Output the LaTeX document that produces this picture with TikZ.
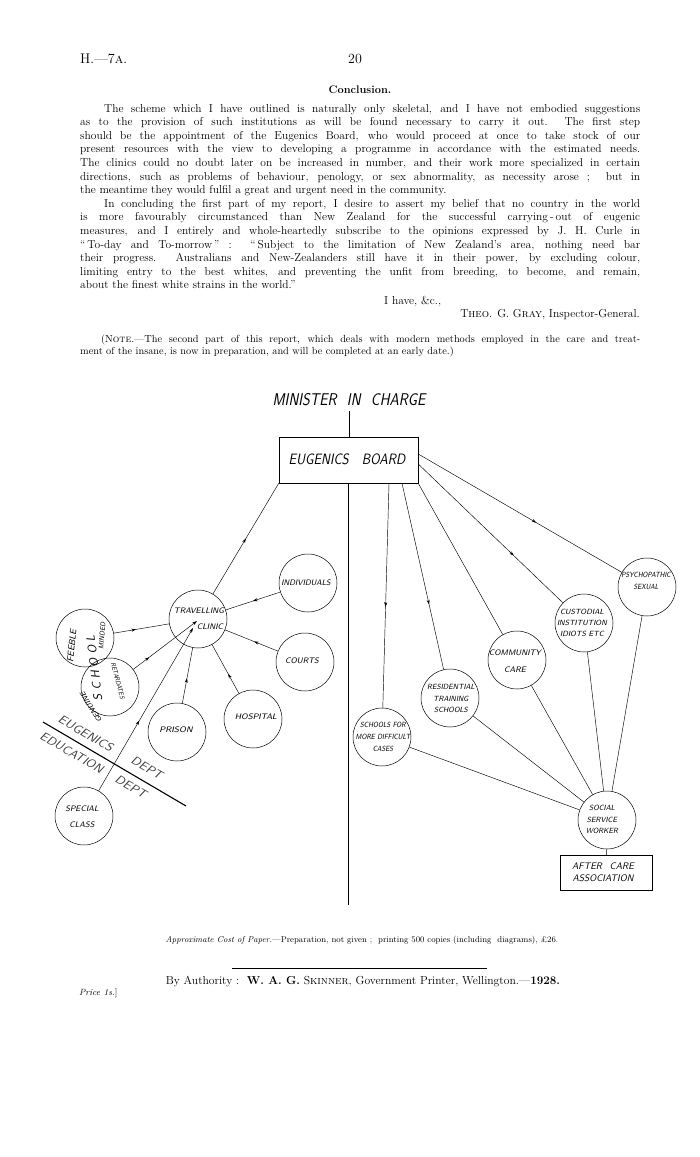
\documentclass[tikz,border=0pt]{standalone}
\usepackage{fontspec}
\usepackage{graphicx}
\usetikzlibrary{decorations.markings,arrows.meta}
\newcommand{\hand}[4]{{\fontsize{#2}{#3}\selectfont\sffamily\itshape\scalebox{#1}[1]{\begin{tabular}{@{}c@{}}#4\end{tabular}}}}
\begin{document}
\begin{tikzpicture}[x=1pt,y=-1pt,
  circ/.style={circle,draw,line width=0.5pt,minimum size=58pt,inner sep=0pt},
  conn/.style={line width=0.45pt},
  midarrow/.style={postaction={decorate},decoration={markings,mark=at position #1 with {\arrow{Stealth[length=4.5pt,width=3pt]}}}},
  midarrow/.default=0.5,
  lbl/.style={inner sep=0pt},
  divtext/.style={inner sep=0pt,text=black!75}]
\useasboundingbox (0,0) rectangle (700,1157);
\fill[white] (0,0) rectangle (700,1157);

% ---------- header and text ----------
\node[lbl, anchor=west, font=\fontsize{14}{16}\selectfont] (hdr) at (80,59) {H.---7\textsc{a}.};
\node[lbl, font=\fontsize{14}{16}\selectfont] (pg) at (355,59) {20};
\node[lbl, font=\fontsize{11}{13}\selectfont\bfseries] (concl) at (360,90) {Conclusion.};

\node[anchor=north west, inner sep=0pt, text width=560pt, align=justify,
      font=\fontsize{11.5}{13.6}\selectfont] (body) at (80,104) {\hyphenpenalty=10000\tolerance=10000%
\hspace*{24pt}The scheme which I have outlined is naturally only skeletal, and I have not embodied suggestions\linebreak
as to the provision of such institutions as will be found necessary to carry it out.\ \ The first step\linebreak
should be the appointment of the Eugenics Board, who would proceed at once to take stock of our\linebreak
present resources with the view to developing a programme in accordance with the estimated needs.\linebreak
The clinics could no doubt later on be increased in number, and their work more specialized in certain\linebreak
directions, such as problems of behaviour, penology, or sex abnormality, as necessity arose ;\ \ but in\linebreak
the meantime they would fulfil a great and urgent need in the community.\par
\hspace*{24pt}In concluding the first part of my report, I desire to assert my belief that no country in the world\linebreak
is more favourably circumstanced than New Zealand for the successful carrying\,-\,out of eugenic\linebreak
measures, and I entirely and whole-heartedly subscribe to the opinions expressed by J. H. Curle in\linebreak
``\,To-day and To-morrow\,'' :\ \ ``\,Subject to the limitation of New Zealand's area, nothing need bar\linebreak
their progress.\ \ Australians and New-Zealanders still have it in their power, by excluding colour,\linebreak
limiting entry to the best whites, and preventing the unfit from breeding, to become, and remain,\linebreak
about the finest white strains in the world.''};

\node[lbl, anchor=base west, font=\fontsize{11.5}{13.6}\selectfont] (have) at (384,304) {I have, \&c.,};
\node[lbl, anchor=base east, font=\fontsize{11.5}{13.6}\selectfont] (theo) at (640,317) {T\textsc{heo}. G. G\textsc{ray}, Inspector-General.};

\node[anchor=north west, inner sep=0pt, text width=560pt, align=justify,
      font=\fontsize{10.3}{11.5}\selectfont] (note) at (80,335) {\hyphenpenalty=10000\tolerance=10000%
\hspace*{21pt}(N\textsc{ote}.---The second part of this report, which deals with modern methods employed in the care and treat-\linebreak
ment of the insane, is now in preparation, and will be completed at an early date.)};

% ---------- diagram: top ----------
\node[lbl] (minister) at (349,402) {\hand{0.87}{17}{17}{MINISTER\hspace{0.7em}IN\hspace{0.7em}CHARGE}};
\node[draw, line width=0.5pt, minimum width=139pt, minimum height=46pt, inner sep=0pt] (board) at (348.5,460) {};
\node[lbl] (boardL) at (347,461) {\hand{0.87}{15}{15}{EUGENICS\hspace{1em}BOARD}};
\draw[conn] (minister.south) -- (minister.south |- board.north);

% ---------- left cluster ----------
\node[circ] (trav) at (198,619) {};
\node[lbl] (travL1) at (199,612) {\hand{1}{8}{8}{TRAVELLING}};
\node[lbl] (travL2) at (210,628) {\hand{1}{8}{8}{CLINIC}};
\node[circ] (indiv) at (308,583) {};
\node[lbl] (indivL) at (306,584) {\hand{0.95}{8}{8}{INDIVIDUALS}};
\node[circ] (courts) at (305,662) {};
\node[lbl] (courtsL) at (302,662) {\hand{1}{8}{8}{COURTS}};
\node[circ] (hosp) at (253,719) {};
\node[lbl] (hospL) at (256,718) {\hand{1.05}{8}{8}{HOSPITAL}};
\node[circ] (prison) at (177,732) {};
\node[lbl] (prisonL) at (176,731) {\hand{1.1}{8}{8}{PRISON}};
\node[circ] (special) at (84,816) {};
\node[lbl] (specialL) at (82,816) {\hand{1}{8}{16}{SPECIAL\\CLASS}};
\node[circ] (feeble) at (85,638) {};
\node[lbl, rotate=84] (feebleL) at (73,646) {\hand{1}{9}{9}{FEEBLE}};
\node[lbl, rotate=85] (mindedL) at (103,636) {\hand{0.9}{7}{7}{MINDED}};
\node[circ] (ret) at (110,687) {};
\node[lbl, rotate=97] (schoolL) at (96,668) {\hand{1}{12}{12}{S\hspace{4pt}C\hspace{4pt}H\hspace{4pt}O\hspace{4pt}O\hspace{4pt}L}};
\node[lbl, rotate=-75] (retL) at (117,681) {\hand{0.85}{6.5}{6.5}{RETARDATES}};
\node[lbl, rotate=122] (genL) at (92,707) {\hand{1.1}{7}{7}{GENUINE}};

\coordinate (divA) at (43,722);
\coordinate (divB) at (186,806);
\draw[line width=1.1pt] (divA) -- (divB);
\node[divtext, rotate=-30] (eugL) at (85,735) {\hand{1.1}{12}{12}{EUGENICS}};
\node[divtext, rotate=-30] (deptA) at (146,769) {\hand{1.1}{12}{12}{DEPT}};
\node[divtext, rotate=-30] (eduL) at (71,754) {\hand{1.07}{12}{12}{EDUCATION}};
\node[divtext, rotate=-30] (deptB) at (130,788) {\hand{1.1}{12}{12}{DEPT}};

\coordinate (tin1) at (197,621);
\coordinate (tin2) at (193,628);
\draw[conn, midarrow=0.5] (trav) -- (board.south west);
\draw[conn, midarrow=0.5] (indiv) -- (trav);
\draw[conn, midarrow=0.45] (courts) -- (trav);
\draw[conn, midarrow=0.4] (hosp) -- (trav);
\draw[conn, midarrow=0.45] (prison) -- (trav);
\draw[conn, midarrow=0.4] (feeble) -- (trav);
\draw[conn, midarrow=0.25, -{Stealth[length=5pt,width=3pt]}] (ret) -- (tin1);
\draw[conn, midarrow=0.43, -{Stealth[length=5pt,width=3pt]}] (special) -- (tin2);

% ---------- centre line ----------
\coordinate (vend) at (348.5,905);
\draw[conn] (board.south) -- (vend);

% ---------- right cluster ----------
\node[circ] (schools) at (382,737) {};
\node[lbl] (schoolsL) at (383,737) {\hand{0.85}{7.5}{12}{SCHOOLS FOR\\MORE DIFFICULT\\CASES}};
\node[circ] (resid) at (450,698) {};
\node[lbl] (residL) at (451,699) {\hand{0.95}{7.5}{11.5}{RESIDENTIAL\\TRAINING\\SCHOOLS}};
\node[circ] (comm) at (517,660) {};
\node[lbl] (commL) at (515,661) {\hand{1}{8}{17}{COMMUNITY\\CARE}};
\node[circ] (cust) at (584,623) {};
\node[lbl] (custL) at (582,623) {\hand{1}{7.5}{11}{CUSTODIAL\\INSTITUTION\\IDIOTS ETC}};
\node[circ] (psych) at (647,587) {};
\node[lbl] (psychL) at (646,581) {\hand{0.84}{7.5}{12}{PSYCHOPATHIC\\SEXUAL}};
\node[circ] (social) at (607,820) {};
\node[lbl] (socialL) at (602,820) {\hand{0.95}{7.5}{11.5}{SOCIAL\\SERVICE\\WORKER}};
\node[draw, line width=0.5pt, minimum width=92pt, minimum height=35pt, inner sep=0pt] (after) at (606,872.5) {};
\node[lbl] (afterL) at (603,873) {\hand{1}{9.5}{11.5}{AFTER\hspace{0.8em}CARE\\ASSOCIATION}};

\draw[conn, midarrow=0.55] ([xshift=40.5pt]board.south) -- (schools);
\draw[conn, midarrow=0.65] ([xshift=53.5pt]board.south) -- (resid);
\draw[conn] (board.south east) -- (comm);
\draw[conn, midarrow=0.66] ([yshift=-4pt]board.east) -- (cust);
\draw[conn, midarrow=0.58] ([yshift=6pt]board.east) -- (psych);
\draw[conn] (schools) -- (social);
\draw[conn] (resid) -- (social);
\draw[conn] (comm) -- (social);
\draw[conn] (cust) -- (social);
\draw[conn] (psych) -- (social);
\draw[conn] (social) -- (after);

% ---------- footer ----------
\node[lbl, font=\fontsize{8.5}{10}\selectfont] (cost) at (362,940) {\textit{Approximate Cost of Paper.}---Preparation, not given ;\ \ printing 500 copies (including\ \ diagrams), £26.};
\coordinate (ruleL) at (232,968);
\coordinate (ruleR) at (487,968);
\draw[line width=0.6pt] (ruleL) -- (ruleR);
\node[lbl, font=\fontsize{11.6}{13}\selectfont] (auth) at (363,982) {By Authority :\ \ \textbf{W. A. G.} S\textsc{kinner}, Government Printer, Wellington.---\textbf{1928.}};
\node[lbl, anchor=west, font=\fontsize{9}{11}\selectfont] (price) at (79,993) {\textit{Price 1s.}]};
\end{tikzpicture}
\end{document}
